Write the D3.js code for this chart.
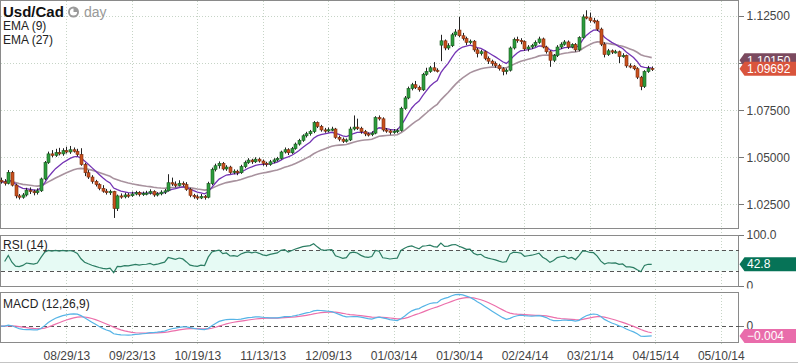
<!DOCTYPE html>
<html>
<head>
<meta charset="utf-8">
<title>Usd/Cad</title>
<style>
  body {margin: 0; background: #fff; font-family: "Liberation Sans", Arial, sans-serif;}
  .grid line {stroke: #c6d4c6; stroke-width: 1; stroke-dasharray: 1,2; shape-rendering: crispEdges;}
  .frame {fill: none; stroke: #8a8a8a; stroke-width: 1; shape-rendering: crispEdges;}
  .axis text {font-size: 12px; fill: #444;}
  .axis line {stroke: #777; shape-rendering: crispEdges;}
  .dash {stroke: #555; stroke-dasharray: 4,3; shape-rendering: crispEdges;}
</style>
</head>
<body>
<svg width="798" height="363"></svg>
<script src="https://d3js.org/d3.v7.min.js"></script>
<script>
// daily candles (bar 0 .. bar 179)
var opens = [
  1.0378,1.0370,1.0362,1.0420,1.0352,1.0295,1.0288,1.0300,1.0325,1.0318,
  1.0312,1.0322,1.0385,1.0472,1.0518,1.0510,1.0525,1.0518,1.0535,1.0528,
  1.0540,1.0532,1.0515,1.0462,1.0418,1.0395,1.0372,1.0355,1.0335,1.0320,
  1.0312,1.0318,1.0228,1.0295,1.0290,1.0300,1.0296,1.0305,1.0312,1.0302,
  1.0308,1.0310,1.0318,1.0300,1.0306,1.0315,1.0322,1.0365,1.0358,1.0350,
  1.0362,1.0355,1.0330,1.0298,1.0290,1.0284,1.0292,1.0288,1.0360,1.0435,
  1.0455,1.0468,1.0438,1.0448,1.0420,1.0426,1.0418,1.0450,1.0472,1.0485,
  1.0476,1.0490,1.0480,1.0468,1.0462,1.0476,1.0486,1.0494,1.0528,1.0540,
  1.0524,1.0546,1.0570,1.0590,1.0614,1.0625,1.0636,1.0684,1.0664,1.0645,
  1.0640,1.0646,1.0650,1.0606,1.0596,1.0585,1.0592,1.0650,1.0660,1.0654,
  1.0636,1.0624,1.0620,1.0628,1.0710,1.0704,1.0645,1.0640,1.0632,1.0638,
  1.0642,1.0760,1.0815,1.0865,1.0885,1.0870,1.0858,1.0940,1.0955,1.0975,
  1.0962,1.1095,1.1118,1.1080,1.1092,1.1150,1.1175,1.1145,1.1130,1.1110,
  1.1116,1.1070,1.1050,1.1060,1.1025,1.1010,1.0998,1.0986,1.0970,1.0955,
  1.0962,1.1080,1.1125,1.1120,1.1114,1.1075,1.1085,1.1094,1.1110,1.1128,
  1.1085,1.1060,1.1015,1.1040,1.1085,1.1100,1.1112,1.1085,1.1098,1.1070,
  1.1135,1.1245,1.1240,1.1225,1.1222,1.1180,1.1100,1.1045,1.1065,1.1058,
  1.1060,1.1035,1.1040,1.0985,1.0984,1.0970,1.0925,1.0876,1.0955,1.0972
];
var highs = [
  1.0392,1.0384,1.0432,1.0428,1.0360,1.0305,1.0310,1.0338,1.0340,1.0328,
  1.0335,1.0392,1.0480,1.0530,1.0538,1.0545,1.0550,1.0548,1.0556,1.0560,
  1.0552,1.0545,1.0548,1.0470,1.0432,1.0405,1.0380,1.0362,1.0352,1.0332,
  1.0328,1.0322,1.0302,1.0308,1.0312,1.0310,1.0318,1.0322,1.0320,1.0318,
  1.0322,1.0330,1.0325,1.0315,1.0325,1.0332,1.0410,1.0392,1.0372,1.0378,
  1.0372,1.0368,1.0338,1.0306,1.0302,1.0305,1.0300,1.0370,1.0445,1.0466,
  1.0478,1.0475,1.0458,1.0455,1.0436,1.0434,1.0460,1.0482,1.0495,1.0492,
  1.0500,1.0498,1.0488,1.0476,1.0486,1.0495,1.0502,1.0535,1.0552,1.0548,
  1.0555,1.0578,1.0598,1.0622,1.0635,1.0645,1.0692,1.0690,1.0672,1.0656,
  1.0658,1.0662,1.0656,1.0615,1.0605,1.0600,1.0662,1.0722,1.0705,1.0662,
  1.0645,1.0632,1.0638,1.0718,1.0722,1.0712,1.0655,1.0648,1.0650,1.0652,
  1.0768,1.0825,1.0875,1.0895,1.0905,1.0880,1.0948,1.0975,1.0985,1.1005,
  1.0972,1.1150,1.1125,1.1105,1.1160,1.1180,1.1245,1.1160,1.1140,1.1125,
  1.1122,1.1080,1.1070,1.1066,1.1035,1.1018,1.1008,1.0995,1.0978,1.0972,
  1.1088,1.1135,1.1140,1.1132,1.1120,1.1095,1.1102,1.1120,1.1140,1.1135,
  1.1092,1.1068,1.1048,1.1095,1.1110,1.1122,1.1120,1.1105,1.1106,1.1142,
  1.1258,1.1280,1.1268,1.1240,1.1230,1.1188,1.1110,1.1075,1.1072,1.1070,
  1.1066,1.1052,1.1045,1.0998,1.0990,1.0978,1.0932,1.0962,1.0985,1.0982
];
var lows = [
  1.0360,1.0350,1.0356,1.0345,1.0282,1.0276,1.0280,1.0292,1.0305,1.0298,
  1.0302,1.0316,1.0378,1.0465,1.0500,1.0502,1.0510,1.0508,1.0520,1.0518,
  1.0525,1.0505,1.0455,1.0400,1.0385,1.0360,1.0345,1.0325,1.0312,1.0302,
  1.0300,1.0178,1.0215,1.0280,1.0282,1.0285,1.0290,1.0298,1.0292,1.0295,
  1.0298,1.0302,1.0290,1.0292,1.0298,1.0305,1.0318,1.0348,1.0340,1.0345,
  1.0345,1.0322,1.0288,1.0280,1.0274,1.0278,1.0275,1.0282,1.0352,1.0425,
  1.0440,1.0430,1.0428,1.0412,1.0410,1.0405,1.0412,1.0442,1.0465,1.0465,
  1.0470,1.0472,1.0455,1.0450,1.0455,1.0468,1.0478,1.0488,1.0520,1.0512,
  1.0518,1.0540,1.0562,1.0582,1.0605,1.0615,1.0628,1.0655,1.0636,1.0630,
  1.0632,1.0638,1.0598,1.0585,1.0576,1.0578,1.0586,1.0642,1.0645,1.0625,
  1.0612,1.0610,1.0612,1.0622,1.0695,1.0636,1.0630,1.0620,1.0625,1.0628,
  1.0636,1.0752,1.0808,1.0855,1.0862,1.0848,1.0852,1.0932,1.0948,1.0955,
  1.0950,1.1010,1.1068,1.1070,1.1085,1.1140,1.1138,1.1120,1.1095,1.1100,
  1.1060,1.1030,1.1040,1.1015,1.0995,1.0985,1.0975,1.0960,1.0935,1.0940,
  1.0955,1.1072,1.1108,1.1100,1.1065,1.1062,1.1075,1.1086,1.1102,1.1078,
  1.1050,1.0980,1.1005,1.1032,1.1075,1.1092,1.1075,1.1078,1.1060,1.1062,
  1.1130,1.1232,1.1215,1.1210,1.1170,1.1090,1.1030,1.1038,1.1048,1.1050,
  1.1000,1.1028,1.0975,1.0972,1.0962,1.0915,1.0856,1.0868,1.0948,1.0958
];
var closes = [
  1.0370,1.0362,1.0420,1.0352,1.0295,1.0288,1.0300,1.0325,1.0318,1.0312,
  1.0322,1.0385,1.0472,1.0518,1.0510,1.0525,1.0518,1.0535,1.0528,1.0540,
  1.0532,1.0515,1.0462,1.0418,1.0395,1.0372,1.0355,1.0335,1.0320,1.0312,
  1.0318,1.0228,1.0295,1.0290,1.0300,1.0296,1.0305,1.0312,1.0302,1.0308,
  1.0310,1.0318,1.0300,1.0306,1.0315,1.0322,1.0365,1.0358,1.0350,1.0362,
  1.0355,1.0330,1.0298,1.0290,1.0284,1.0292,1.0288,1.0360,1.0435,1.0455,
  1.0468,1.0438,1.0448,1.0420,1.0426,1.0418,1.0450,1.0472,1.0485,1.0476,
  1.0490,1.0480,1.0468,1.0462,1.0476,1.0486,1.0494,1.0528,1.0540,1.0524,
  1.0546,1.0570,1.0590,1.0614,1.0625,1.0636,1.0684,1.0664,1.0645,1.0640,
  1.0646,1.0650,1.0606,1.0596,1.0585,1.0592,1.0650,1.0660,1.0654,1.0636,
  1.0624,1.0620,1.0628,1.0710,1.0704,1.0645,1.0640,1.0632,1.0638,1.0642,
  1.0760,1.0815,1.0865,1.0885,1.0870,1.0858,1.0940,1.0955,1.0975,1.0962,
  1.0958,1.1118,1.1080,1.1092,1.1150,1.1165,1.1145,1.1130,1.1110,1.1116,
  1.1070,1.1050,1.1060,1.1025,1.1010,1.0998,1.0986,1.0970,1.0955,1.0962,
  1.1080,1.1125,1.1120,1.1114,1.1075,1.1085,1.1094,1.1110,1.1128,1.1085,
  1.1060,1.1015,1.1040,1.1085,1.1100,1.1112,1.1085,1.1098,1.1070,1.1135,
  1.1245,1.1240,1.1225,1.1222,1.1180,1.1100,1.1045,1.1065,1.1058,1.1060,
  1.1035,1.1040,1.0985,1.0984,1.0970,1.0925,1.0876,1.0955,1.0972,1.09692
];

var tickLabels = ["08/29/13","09/23/13","10/19/13","11/13/13","12/09/13","01/03/14",
                  "01/30/14","02/24/14","03/21/14","04/15/14","05/10/14"];
var tickBars = [18, 36, 54, 72, 90, 108, 126, 144, 162, 180, 198];
var priceTicks = [1.025, 1.05, 1.075, 1.1, 1.125];

// last values as printed in the tags on the right
var tagLabels = ["EMA (27)", "Close", "RSI (14)", "MACD"];
var tagValues = [1.10150, 1.09692, 42.8, -0.004];

// indicators
function ema(vals, n) {
  var k = 2 / (n + 1), e = vals[0];
  return vals.map(function(v, i) { e = i ? v * k + e * (1 - k) : v; return e; });
}
function rsi(vals, n) {
  // Wilder smoothing, started from a neutral average move
  var out = [], ag = 0.0008, al = 0.0008;
  for (var i = 1; i < vals.length; i++) {
    var ch = vals[i] - vals[i - 1], g = Math.max(ch, 0), l = Math.max(-ch, 0);
    ag = (ag * (n - 1) + g) / n; al = (al * (n - 1) + l) / n;
    out.push({i: i, v: 100 - 100 / (1 + ag / al)});
  }
  return out;
}
var ema9 = ema(closes, 9), ema27 = ema(closes, 27);
var e12 = ema(closes, 12), e26 = ema(closes, 26);
var macd = e12.map(function(v, i) { return v - e26[i]; });
var signal = ema(macd, 9);
var rsiVals = rsi(closes, 14);

var svg = d3.select("svg"),
    plotW = 738.5;

var x = d3.scaleLinear().domain([0, 198]).range([1, 720.8]);
var y = d3.scaleLinear().domain([1.0122, 1.1324]).range([228.5, 2]);
var yr = d3.scaleLinear().domain([0, 100]).range([286, 235]);
var ym = d3.scaleLinear().domain([-0.0065, 0.0132]).range([342.3, 293]);

// vertical grid through all panels
svg.append("g").attr("class", "grid")
  .selectAll("line").data(tickBars).enter().append("line")
    .attr("x1", function(d) { return Math.round(x(d)) + 0.5; })
    .attr("x2", function(d) { return Math.round(x(d)) + 0.5; })
    .attr("y1", 1).attr("y2", 346);

// horizontal grid, price panel
svg.append("g").attr("class", "grid")
  .selectAll("line").data(priceTicks).enter().append("line")
    .attr("x1", 1).attr("x2", plotW)
    .attr("y1", function(d) { return Math.round(y(d)) + 0.5; })
    .attr("y2", function(d) { return Math.round(y(d)) + 0.5; });

// RSI band
svg.append("rect").attr("x", 1).attr("width", plotW - 1)
  .attr("y", yr(70)).attr("height", yr(30) - yr(70)).attr("fill", "#e6faf4");

// panel frames
[[0.5, 228.5], [235.5, 286.5], [292.5, 342.5]].forEach(function(p) {
  svg.append("rect").attr("class", "frame")
    .attr("x", 0.5).attr("y", p[0]).attr("width", plotW - 0.5).attr("height", p[1] - p[0]);
});
svg.append("line").attr("x1", 0).attr("x2", 798).attr("y1", 362.5).attr("y2", 362.5)
  .attr("stroke", "#c4c4c4");

// EMA lines
var lineP = function(arr) {
  return d3.line().x(function(d, i) { return x(i); }).y(function(d) { return y(d); })(arr);
};
svg.append("path").attr("d", lineP(ema27)).attr("fill", "none")
  .attr("stroke", "#a8929e").attr("stroke-width", 1.6);
svg.append("path").attr("d", lineP(ema9)).attr("fill", "none")
  .attr("stroke", "#7434b4").attr("stroke-width", 1.3);

// candles
var bars = d3.range(closes.length);
var candle = svg.append("g").selectAll("g").data(bars).enter().append("g");
candle.append("line")
  .attr("x1", function(i) { return Math.round(x(i)) + 0.5; })
  .attr("x2", function(i) { return Math.round(x(i)) + 0.5; })
  .attr("y1", function(i) { return y(highs[i]); })
  .attr("y2", function(i) { return y(lows[i]); })
  .attr("stroke", "#222").attr("stroke-width", 1);
candle.append("rect")
  .attr("x", function(i) { return Math.round(x(i)) - 1; })
  .attr("width", 3)
  .attr("y", function(i) { return y(Math.max(opens[i], closes[i])); })
  .attr("height", function(i) { return Math.max(1.2, Math.abs(y(opens[i]) - y(closes[i]))); })
  .attr("fill", function(i) { return closes[i] >= opens[i] ? "#2c9c3c" : "#c9501d"; })
  .attr("stroke", function(i) { return closes[i] >= opens[i] ? "#1b5a20" : "#7a2c10"; })
  .attr("stroke-width", 0.6);

// RSI panel
svg.append("line").attr("class", "dash").attr("x1", 1).attr("x2", plotW)
  .attr("y1", Math.round(yr(70)) + 0.5).attr("y2", Math.round(yr(70)) + 0.5);
svg.append("line").attr("class", "dash").attr("x1", 1).attr("x2", plotW)
  .attr("y1", Math.round(yr(30)) + 0.5).attr("y2", Math.round(yr(30)) + 0.5);
svg.append("path")
  .attr("d", d3.line().x(function(d) { return x(d.i); }).y(function(d) { return yr(d.v); })(rsiVals))
  .attr("fill", "none").attr("stroke", "#2b7d63").attr("stroke-width", 1.2);

// MACD panel
svg.append("line").attr("class", "dash").attr("x1", 1).attr("x2", plotW)
  .attr("y1", Math.round(ym(0)) + 0.5).attr("y2", Math.round(ym(0)) + 0.5);
var lineM = d3.line().x(function(d, i) { return x(i); }).y(function(d) { return ym(d); });
svg.append("path").attr("d", lineM(signal)).attr("fill", "none")
  .attr("stroke", "#ec6fab").attr("stroke-width", 1.2);
svg.append("path").attr("d", lineM(macd)).attr("fill", "none")
  .attr("stroke", "#56b4e6").attr("stroke-width", 1.2);

// right axes (the 1.10000 label sits under the value tags, so only its tick is drawn)
var ax = svg.append("g").attr("class", "axis").attr("transform", "translate(" + plotW + ",0)");
ax.call(d3.axisRight(y).tickValues(priceTicks).tickSize(5).tickPadding(3)
  .tickFormat(function(d) { return d === 1.1 ? "" : d3.format(".5f")(d); }));
ax.select(".domain").remove();
var axR = svg.append("g").attr("class", "axis").attr("transform", "translate(" + plotW + ",0)");
axR.call(d3.axisRight(yr).tickValues([100]).tickFormat(d3.format(".1f")).tickSize(5).tickPadding(3));
axR.select(".domain").remove();
var axM = svg.append("g").attr("class", "axis").attr("transform", "translate(" + plotW + ",0)");
axM.call(d3.axisRight(ym).tickValues([0]).tickFormat(d3.format("d")).tickSize(5).tickPadding(3));
axM.select(".domain").remove();
// RSI "0" sits on the panel bottom, half hidden
svg.append("clipPath").attr("id", "rsiClip").append("rect")
  .attr("x", 738).attr("y", 270).attr("width", 60).attr("height", 18.5);
var axR0 = svg.append("g").attr("class", "axis").attr("clip-path", "url(#rsiClip)")
  .append("g").attr("transform", "translate(" + plotW + ",0)");
axR0.call(d3.axisRight(yr).tickValues([0]).tickFormat(d3.format("d")).tickSize(5).tickPadding(3));
axR0.select(".domain").remove();

// bottom axis labels
var xa = svg.append("g").attr("class", "axis").attr("transform", "translate(0,343)");
xa.call(d3.axisBottom(x).tickValues(tickBars).tickSize(0).tickPadding(8)
  .tickFormat(function(d, i) { return tickLabels[i]; }));
xa.select(".domain").remove();

// value tags at the right
function tag(cy, color, text) {
  var g = svg.append("g");
  g.append("path")
    .attr("d", "M" + (plotW + 1) + "," + cy + "L" + (plotW + 6) + "," + (cy - 7) +
      "H796V" + (cy + 7) + "H" + (plotW + 6) + "Z")
    .attr("fill", color);
  g.append("text").attr("x", plotW + 8.5).attr("y", cy).attr("dy", "0.36em")
    .attr("fill", "#fff").style("font-size", "12px").text(text);
}
tag(y(tagValues[0]), "#7b4a5f", d3.format(".5f")(tagValues[0]));
tag(y(tagValues[1]), "#d9543c", d3.format(".5f")(tagValues[1]));
tag(yr(tagValues[2]), "#067357", d3.format(".1f")(tagValues[2]));
tag(ym(tagValues[3]), "#e96cab", d3.format(".3f")(tagValues[3]));

// titles
svg.append("text").attr("x", 3).attr("y", 17).style("font-size", "15px")
  .style("font-weight", "bold").attr("fill", "#111").text("Usd/Cad");
var clock = svg.append("g").attr("transform", "translate(73.5,12)");
clock.append("circle").attr("r", 5.5).attr("fill", "#9a9a9a");
clock.append("path").attr("fill", "#fff")
  .attr("d", d3.arc().innerRadius(0).outerRadius(3.6).startAngle(Math.PI / 2).endAngle(2 * Math.PI)());
svg.append("text").attr("x", 84).attr("y", 17).style("font-size", "14px")
  .attr("fill", "#999").text("day");
svg.append("text").attr("x", 3).attr("y", 30).style("font-size", "12px").attr("fill", "#222").text("EMA (9)");
svg.append("text").attr("x", 3).attr("y", 44).style("font-size", "12px").attr("fill", "#222").text("EMA (27)");
svg.append("text").attr("x", 3).attr("y", 249).style("font-size", "12px").attr("fill", "#222").text("RSI (14)");
svg.append("text").attr("x", 3).attr("y", 308).style("font-size", "12px").attr("fill", "#222").text("MACD (12,26,9)");
</script>
</body>
</html>
